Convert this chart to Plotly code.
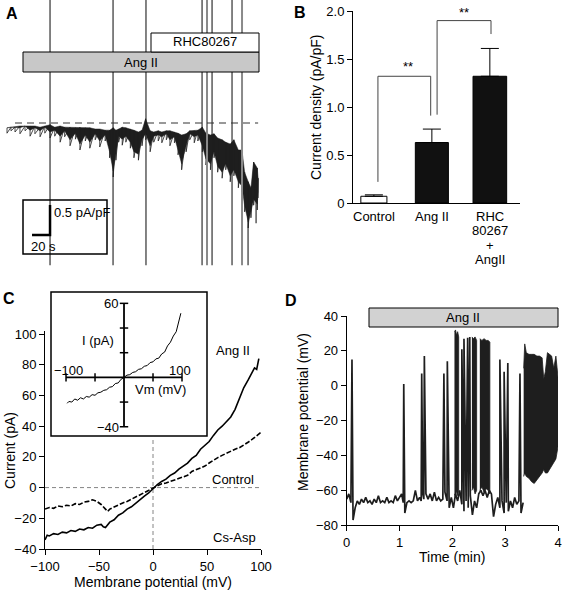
import plotly.graph_objects as go

W, H = 562, 590
def px(x): return x / W
def py(y): return 1 - y / H

# ---------------- Panel A data (time s, current density pA/pF) ----------------
a_t = [0, 4.4, 8.9, 14.4, 20, 25.6, 31, 36.7, 42, 47.8, 53, 59, 64, 70, 76, 81, 87, 92, 98, 103,
       109, 114, 118, 121, 124, 128, 132, 137, 141, 146, 150, 154, 159, 163, 168, 172, 177, 181,
       186, 190, 194, 199, 203, 208, 212, 217, 221, 226, 230, 234, 239, 243, 248, 252, 257, 261,
       264, 268, 271, 274, 278, 279]
a_upper = [-0.08, -0.07, -0.07, -0.05, -0.05, -0.05, -0.05, -0.07, -0.05, -0.03, -0.07, -0.05, -0.07,
           -0.07, -0.08, -0.07, -0.08, -0.08, -0.10, -0.10, -0.12, -0.12, -0.08, -0.12, -0.10, -0.07,
           -0.08, -0.10, -0.12, -0.15, -0.12, 0.07, -0.13, -0.15, -0.13, -0.15, -0.13, -0.13, -0.15,
           -0.17, -0.20, -0.18, -0.13, -0.13, -0.12, -0.07, -0.17, -0.20, -0.18, -0.25, -0.28, -0.32,
           -0.35, -0.28, -0.45, -0.45, -0.82, -0.98, -1.08, -0.65, -0.75, -0.92]
a_lower = [-0.17, -0.13, -0.15, -0.18, -0.13, -0.22, -0.18, -0.23, -0.17, -0.25, -0.22, -0.32, -0.23,
           -0.38, -0.27, -0.45, -0.30, -0.42, -0.28, -0.40, -0.30, -0.58, -0.90, -0.62, -0.32, -0.37,
           -0.32, -0.42, -0.58, -0.62, -0.38, -0.28, -0.48, -0.32, -0.30, -0.33, -0.28, -0.38, -0.33,
           -0.53, -0.78, -0.48, -0.28, -0.33, -0.30, -0.48, -0.70, -0.78, -0.58, -0.82, -0.92, -0.78,
           -0.98, -0.88, -1.08, -1.15, -1.48, -1.75, -1.58, -1.37, -1.45, -1.25]
a_spikes_dark = [47.8, 117.8, 154.4, 216.7, 227.8, 250.0]
a_spikes_gray = [222.2, 261.1]
a_spike_top = 3.0
a_spike_bottom = -2.37
a_partial_t = [267.8, 276.7]
a_partial_top = [-1.0, -1.3]
a_partial_bottom = [-2.37, -1.67]

# ---------------- Panel B data ----------------
b_categories = ["Control", "Ang II", "RHC<br>80267<br>+<br>AngII"]
b_values = [0.07, 0.63, 1.32]
b_errors = [0.015, 0.14, 0.29]
b_tick_vals = [0, 0.5, 1.0, 1.5, 2.0]
b_tick_text = ["0", "0.5", "1.0", "1.5", "2.0"]

# ---------------- Panel C data (mV, pA) ----------------
c_v_ang = [-100, -98, -96, -92, -88, -84, -80, -76, -72, -68, -64, -60, -56, -52, -48, -46, -44, -42,
           -40, -36, -32, -28, -24, -20, -16, -12, -8, -4, 0, 4, 8, 12, 16, 20, 24, 28, 32, 36, 40,
           44, 48, 52, 56, 60, 64, 68, 72, 76, 80, 84, 88, 92, 94, 96, 98]
c_i_ang = [-34, -31, -31.5, -30, -30.5, -29, -29.5, -28, -28.5, -27, -27.5, -26, -26.5, -24.5, -24,
           -25.5, -26, -24, -22.5, -21, -18, -16.5, -14, -12.5, -10, -8, -5.5, -3.5, -0.5, 2, 4, 5.5,
           8, 9.5, 12, 14, 16, 19, 21, 25, 27.5, 30, 34, 37.5, 40, 43, 46, 51, 58, 65, 70, 75, 78,
           77, 84]
c_v_ctl = [-100, -96, -92, -88, -84, -80, -76, -72, -68, -64, -60, -56, -52, -48, -44, -42, -40, -36,
           -32, -28, -24, -20, -16, -12, -8, -4, 0, 4, 8, 12, 16, 20, 24, 28, 32, 36, 40, 44, 48,
           52, 56, 60, 64, 68, 72, 76, 80, 84, 88, 92, 96, 100]
c_i_ctl = [-14, -13, -13.5, -12, -12.5, -11.5, -12, -10.5, -11, -9.5, -9, -8, -9, -11, -14, -15.5,
           -14, -12.5, -11, -10, -9, -7.5, -6, -5, -3.5, -2, -0.5, 1.5, 2.5, 3, 4, 5, 6, 7, 8, 10.5,
           11.5, 12.5, 14, 16, 18, 19.5, 21, 22.5, 24, 25, 26, 27.5, 29.5, 31.5, 34, 36]
c_tick_x = [-100, -50, 0, 50, 100]
c_tick_y = [-40, -20, 0, 20, 40, 60, 80, 100]

inset_v = [-98, -95, -90, -85, -80, -75, -70, -65, -60, -55, -50, -45, -40, -35, -30, -25, -20, -15,
           -10, -5, 0, 5, 10, 15, 20, 25, 30, 35, 40, 45, 50, 55, 60, 65, 70, 75, 80, 85, 90, 95, 98]
inset_i = [-21, -19.5, -20, -17.5, -18.5, -16.5, -17.5, -15.5, -16, -14, -14.5, -12.5, -12, -10.5,
           -10, -8, -7.5, -5, -4.5, -1.5, 0, 1.8, 2.2, 4, 4.6, 6.5, 7, 9, 9.6, 12, 12.6, 15, 15.6,
           19, 20.5, 25.5, 28.5, 33.5, 37, 47, 52]
inset_xticks = [-100, -50, 50, 100]
inset_yticks = [-40, -20, 20, 40, 60]

# ---------------- Panel D data (min, mV) ----------------
d_base_t = [0.00, 0.04, 0.08, 0.12, 0.16, 0.20, 0.24, 0.28, 0.32, 0.36, 0.40, 0.44, 0.48, 0.52, 0.56,
            0.60, 0.64, 0.68, 0.72, 0.76, 0.80, 0.84, 0.88, 0.92, 0.96, 1.00, 1.04, 1.07, 1.10, 1.14,
            1.18, 1.22, 1.26, 1.30, 1.34, 1.38, 1.41, 1.44, 1.46, 1.50, 1.54, 1.58, 1.62, 1.66, 1.70,
            1.74, 1.78, 1.82, 1.86, 1.90, 1.94, 1.98, 2.02, 2.06, 2.10, 2.14, 2.18, 2.22, 2.26, 2.30,
            2.34, 2.38, 2.42, 2.46, 2.50, 2.54, 2.58, 2.62, 2.66, 2.70, 2.74, 2.78, 2.82, 2.86, 2.90,
            2.94, 2.98, 3.02, 3.06, 3.10, 3.14, 3.18, 3.22, 3.26, 3.30, 3.34]
d_base_v = [-65, -62, -67, -77, -70, -66, -68, -65, -67, -64, -67, -66, -68, -65, -67, -63, -67, -66,
            -67, -64, -67, -66, -67, -63, -66, -64, -62, -67, -73, -67, -66, -67, -66, -60, -66, -64,
            -66, -62, -65, -62, -65, -62, -66, -61, -66, -64, -66, -65, -61, -66, -70, -64, -70, -62,
            -66, -60, -68, -72, -66, -70, -63, -74, -66, -70, -62, -60, -63, -60, -64, -60, -62, -75,
            -68, -64, -70, -66, -73, -67, -72, -66, -70, -64, -68, -66, -73, -67]
d_spike_t = [0.10, 1.08, 1.42, 1.47, 1.84, 1.905, 2.18, 2.22, 2.29, 2.33, 2.90, 2.98, 3.05, 3.28]
d_spike_v = [15, 1, 7, 17, 7, 14, 21, 27, 27.5, 28, 15, 8, 13, 7]
d_burst1_t = [2.04, 2.06, 2.08, 2.10, 2.12]
d_burst1_top = [31, 32, 29, 31, 28]
d_burst1_bottom = [-62, -64, -60, -63, -60]
d_burst2_t = [2.37, 2.40, 2.43, 2.46]
d_burst2_top = [28, 27, 28, 26]
d_burst2_bottom = [-60, -58, -62, -60]
d_burst3_t = [2.52, 2.56, 2.60, 2.64, 2.68, 2.71]
d_burst3_top = [27, 26, 27, 26, 26, 25]
d_burst3_bottom = [-60, -58, -61, -59, -60, -62]
d_burst4_t = [3.35, 3.37, 3.40, 3.45, 3.50, 3.55, 3.60, 3.65, 3.70, 3.73, 3.76, 3.80, 3.84, 3.88,
              3.92, 3.96, 4.00]
d_burst4_top = [10, 24, 19, 18, 18, 18, 17, 17, 16, 4, 8, 19, 18, 17, 10, 17, 5]
d_burst4_bottom = [-52, -50, -52, -53, -55, -56, -54, -52, -50, -48, -50, -50, -48, -46, -44, -42, -35]
d_tick_x = [0, 1, 2, 3, 4]
d_tick_y = [-80, -60, -40, -20, 0, 20, 40]

FONT = "Liberation Sans, Arial, Helvetica, sans-serif"
DARK = "#1e1e1e"

fig = go.Figure()

# ---- Panel A ----
zx, zy = [], []
for t, u, l in zip(a_t, a_upper, a_lower):
    zx += [t, t]
    zy += [u, l]
fig.add_trace(go.Scatter(x=a_t + a_t[::-1], y=a_upper + [min(u, l + 0.1) for u, l in zip(a_upper, a_lower)][::-1],
                         fill="toself", fillcolor=DARK, mode="lines", line=dict(color=DARK, width=0.5),
                         xaxis="x", yaxis="y", showlegend=False, hoverinfo="skip"))
fig.add_trace(go.Scatter(x=zx, y=zy, mode="lines", line=dict(color=DARK, width=0.8),
                         xaxis="x", yaxis="y", showlegend=False, hoverinfo="skip"))

def spike_xy(ts, tops, bottoms):
    xs, ys = [], []
    for t, a, b in zip(ts, tops, bottoms):
        xs += [t, t, None]
        ys += [a, b, None]
    return xs, ys
sx, sy = spike_xy(a_spikes_dark, [a_spike_top] * len(a_spikes_dark), [a_spike_bottom] * len(a_spikes_dark))
fig.add_trace(go.Scatter(x=sx, y=sy, mode="lines", line=dict(color=DARK, width=1.1),
                         xaxis="x", yaxis="y", showlegend=False, hoverinfo="skip"))
sx, sy = spike_xy(a_spikes_gray, [a_spike_top] * len(a_spikes_gray), [a_spike_bottom] * len(a_spikes_gray))
fig.add_trace(go.Scatter(x=sx, y=sy, mode="lines", line=dict(color="#8a8a8a", width=2),
                         xaxis="x", yaxis="y", showlegend=False, hoverinfo="skip"))
sx, sy = spike_xy(a_partial_t, a_partial_top, a_partial_bottom)
fig.add_trace(go.Scatter(x=sx, y=sy, mode="lines", line=dict(color=DARK, width=1.1),
                         xaxis="x", yaxis="y", showlegend=False, hoverinfo="skip"))
# scale bar (20 s, 0.5 pA/pF)
fig.add_trace(go.Scatter(x=[27.8, 47.8, 47.8], y=[-1.867, -1.867, -1.367], mode="lines",
                         line=dict(color="black", width=2.5), xaxis="x", yaxis="y",
                         showlegend=False, hoverinfo="skip"))

# ---- Panel B ----
fig.add_trace(go.Bar(x=[0, 1, 2], y=b_values, width=[0.45, 0.57, 0.58],
                     marker=dict(color=["white", "#111111", "#111111"], line=dict(color="black", width=1)),
                     error_y=dict(type="data", symmetric=False, array=b_errors, arrayminus=[0, 0, 0],
                                  color="black", thickness=1, width=9),
                     xaxis="x2", yaxis="y2", showlegend=False, hoverinfo="skip"))
fig.add_trace(go.Scatter(x=[0.07, 0.07, 0.98, 0.98], y=[0.22, 1.32, 1.32, 0.91], mode="lines",
                         line=dict(color="#444", width=1), xaxis="x2", yaxis="y2",
                         showlegend=False, hoverinfo="skip"))
fig.add_trace(go.Scatter(x=[1.09, 1.09, 2.02, 2.02], y=[0.92, 1.9, 1.9, 1.76], mode="lines",
                         line=dict(color="#444", width=1), xaxis="x2", yaxis="y2",
                         showlegend=False, hoverinfo="skip", cliponaxis=False))

# ---- Panel C ----
fig.add_trace(go.Scatter(x=[-100, 100], y=[0, 0], mode="lines",
                         line=dict(color="#666", width=0.8, dash="4px,3px"),
                         xaxis="x3", yaxis="y3", showlegend=False, hoverinfo="skip"))
fig.add_trace(go.Scatter(x=[0, 0], y=[-40, 33], mode="lines",
                         line=dict(color="#666", width=0.8, dash="4px,3px"),
                         xaxis="x3", yaxis="y3", showlegend=False, hoverinfo="skip"))
fig.add_trace(go.Scatter(x=c_v_ctl, y=c_i_ctl, mode="lines",
                         line=dict(color="black", width=1.6, dash="5px,2px"),
                         xaxis="x3", yaxis="y3", showlegend=False, hoverinfo="skip"))
fig.add_trace(go.Scatter(x=c_v_ang, y=c_i_ang, mode="lines",
                         line=dict(color="black", width=1.6),
                         xaxis="x3", yaxis="y3", showlegend=False, hoverinfo="skip"))
# inset
fig.add_trace(go.Scatter(x=[-100, 100, None, 0, 0], y=[0, 0, None, -40, 60], mode="lines",
                         line=dict(color="black", width=1.8),
                         xaxis="x4", yaxis="y4", showlegend=False, hoverinfo="skip"))
fig.add_trace(go.Scatter(x=inset_xticks, y=[0] * len(inset_xticks), mode="markers",
                         marker=dict(symbol="line-ns", size=6, line=dict(color="black", width=1.5)),
                         xaxis="x4", yaxis="y4", showlegend=False, hoverinfo="skip"))
fig.add_trace(go.Scatter(x=[0] * len(inset_yticks), y=inset_yticks, mode="markers",
                         marker=dict(symbol="line-ew", size=6, line=dict(color="black", width=1.5)),
                         xaxis="x4", yaxis="y4", showlegend=False, hoverinfo="skip"))
fig.add_trace(go.Scatter(x=inset_v, y=inset_i, mode="lines", line=dict(color="black", width=1),
                         xaxis="x4", yaxis="y4", showlegend=False, hoverinfo="skip"))

# ---- Panel D ----
pts = sorted(list(zip(d_base_t, d_base_v)) + list(zip(d_spike_t, d_spike_v)))
d_t = [p[0] for p in pts]
d_v = [p[1] for p in pts]
fig.add_trace(go.Scatter(x=d_t, y=d_v, mode="lines", line=dict(color=DARK, width=1.7),
                         xaxis="x5", yaxis="y5", showlegend=False, hoverinfo="skip"))
for bt, btop, bbot in [(d_burst1_t, d_burst1_top, d_burst1_bottom),
                       (d_burst2_t, d_burst2_top, d_burst2_bottom),
                       (d_burst3_t, d_burst3_top, d_burst3_bottom),
                       (d_burst4_t, d_burst4_top, d_burst4_bottom)]:
    fig.add_trace(go.Scatter(x=bt + bt[::-1], y=btop + bbot[::-1], fill="toself", fillcolor=DARK,
                             mode="lines", line=dict(color=DARK, width=0.8),
                             xaxis="x5", yaxis="y5", showlegend=False, hoverinfo="skip"))

axis_common = dict(showgrid=False, zeroline=False, showline=True, linecolor="black", linewidth=1,
                   ticks="outside", ticklen=5, tickcolor="black", tickwidth=1, automargin=False,
                   tickfont=dict(family=FONT, size=13, color="black"))

fig.update_layout(
    template="none",
    width=W, height=H, autosize=False,
    margin=dict(l=0, r=0, t=0, b=0, pad=0),
    paper_bgcolor="white", plot_bgcolor="rgba(0,0,0,0)",
    font=dict(family=FONT, size=13, color="black"),
    xaxis=dict(domain=[0, px(290)], range=[-7.78, 314.4], visible=False, anchor="y", automargin=False),
    yaxis=dict(domain=[py(270), 1], range=[-2.45, 2.05], visible=False, anchor="x", automargin=False),
    xaxis2=dict(domain=[px(353), px(520)], range=[-0.36, 2.52], anchor="y2", automargin=False,
                showgrid=False, zeroline=False, showline=True, linecolor="black", ticks="",
                showticklabels=False),
    yaxis2=dict(domain=[py(203), py(11)], range=[0, 2.0], anchor="x2",
                tickvals=b_tick_vals, ticktext=b_tick_text, **axis_common),
    xaxis3=dict(domain=[px(45), px(261)], range=[-100, 100], anchor="y3", tickvals=c_tick_x, **axis_common),
    yaxis3=dict(domain=[py(549), py(331)], range=[-40, 102], anchor="x3", tickvals=c_tick_y, **axis_common),
    xaxis4=dict(domain=[px(51), px(207)], range=[-125.9, 143.1], visible=False, anchor="y4", automargin=False),
    yaxis4=dict(domain=[py(436), py(292)], range=[-47.5, 69.2], visible=False, anchor="x4", automargin=False),
    xaxis5=dict(domain=[px(346.7), px(558)], range=[0, 4], anchor="y5", tickvals=d_tick_x, **axis_common),
    yaxis5=dict(domain=[py(525.3), py(316)], range=[-80, 40], anchor="x5", tickvals=d_tick_y, **axis_common),
)

def prect(x0, y0, x1, y1, fill, lw=1, layer="above"):
    return dict(type="rect", xref="paper", yref="paper", x0=px(x0), x1=px(x1), y0=py(y1), y1=py(y0),
                fillcolor=fill, line=dict(color="black", width=lw), layer=layer)

shapes = [
    prect(23, 52, 259, 72, "#c8c8c8"),
    prect(151, 33, 259, 52, "white"),
    prect(23, 200, 107, 254, "rgba(0,0,0,0)", 1.5),
    prect(51, 292, 207, 436, "white", 1.5, "below"),
    prect(369, 308, 558, 327, "#d2d2d2"),
    dict(type="line", xref="x", yref="y", x0=8.9, x1=279, y0=0, y1=0,
         line=dict(color="#333", width=1, dash="7px,5px"), layer="above"),
]
fig.update_layout(shapes=shapes)

def ann(text, x, y, size=13, bold=False, xanchor="center", angle=0):
    return dict(text=f"<b>{text}</b>" if bold else text, xref="paper", yref="paper",
                x=px(x), y=py(y), xanchor=xanchor, yanchor="middle", showarrow=False,
                textangle=angle, font=dict(family=FONT, size=size, color="black"))

anns = [
    ann("A", 12, 14, 16, True), ann("B", 300, 13, 16, True),
    ann("C", 9, 298, 16, True), ann("D", 291, 300, 16, True),
    ann("RHC80267", 205, 42), ann("Ang II", 141, 62),
    ann("0.5 pA/pF", 52, 213, xanchor="left"), ann("20 s", 29, 247, xanchor="left"),
    ann("**", 408, 67), ann("**", 464, 13),
    ann("Current density (pA/pF)", 316, 107, 14, angle=-90),
    ann("Ang II", 233, 351), ann("Control", 233, 479), ann("Cs-Asp", 234, 537),
    ann("Membrane potential (mV)", 153, 582, 14), ann("Current (pA)", 10, 451, 14, angle=-90),
    ann("60", 120, 303, xanchor="right"), ann("\u221240", 121, 427, xanchor="right"),
    ann("\u2212100", 68, 370), ann("100", 180, 370),
    ann("I (pA)", 98, 340), ann("Vm (mV)", 160, 389),
    ann("Ang II", 463, 317),
    ann("Membrane potential (mV)", 303, 412, 14, angle=-90), ann("Time (min)", 452, 557, 14),
]
for i, cat in enumerate(b_categories):
    for j, line in enumerate(cat.split("<br>")):
        anns.append(dict(text=line, xref="x2", yref="paper", x=i, y=py(216 + 14.6 * j),
                         xanchor="center", yanchor="middle", showarrow=False,
                         font=dict(family=FONT, size=13, color="black")))
fig.update_layout(annotations=anns)

fig.write_html("out.html", config={"displayModeBar": False, "staticPlot": True},
               post_script="document.body.style.margin='0';document.body.style.overflow='hidden';")
